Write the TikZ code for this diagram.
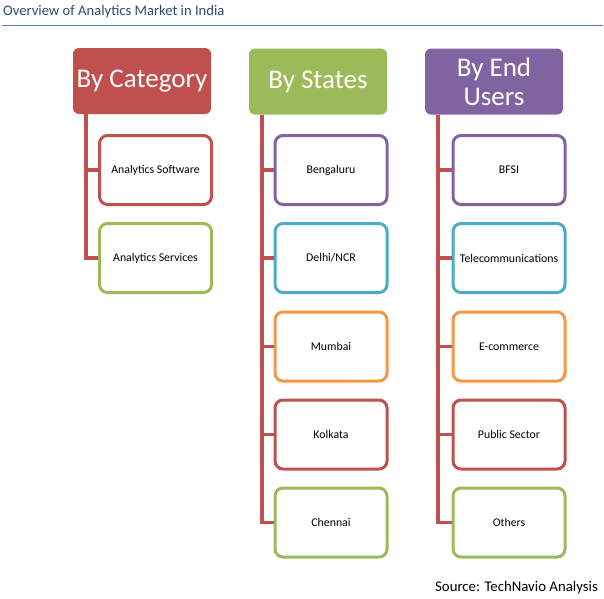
\documentclass[tikz,border=0pt]{standalone}
\usepackage{fontspec}
\setmainfont{Carlito}
\definecolor{cred}{HTML}{C0504D}
\definecolor{cgreen}{HTML}{9BBB59}
\definecolor{cpurple}{HTML}{8064A2}
\definecolor{cteal}{HTML}{4BACC6}
\definecolor{corange}{HTML}{F79646}
\definecolor{ctitle}{HTML}{2E4A6B}
\definecolor{cline}{HTML}{4F81BD}
\tikzset{
  hdr/.style={fill=#1, rounded corners=6pt, minimum width=138pt, minimum height=66pt, inner sep=0pt, text=white, font=\fontsize{27}{29}\selectfont, align=center},
  leaf/.style={draw=#1, line width=3pt, fill=white, rounded corners=8pt, minimum width=112pt, minimum height=69pt, inner sep=0pt, font=\fontsize{11.8}{13}\selectfont, align=center},
  conn/.style={draw=cred, line width=3.2pt},
}
\begin{document}
\begin{tikzpicture}[x=1pt,y=-1pt]
\useasboundingbox (0,0) rectangle (604,598);
\node[anchor=base west, text=ctitle, font=\fontsize{14.6}{16}\selectfont, inner sep=0pt] (title) at (3,15) {Overview of Analytics Market in India};
\coordinate (tl) at (2,25);
\coordinate (tr) at (603,25);
\draw[cline, line width=0.8pt] (tl) -- (tr);

\node[hdr=cred] (cat) at (142,81) {By Category};
\node[hdr=cgreen] (st) at (318,81.5) {By States};
\node[hdr=cpurple] (eu) at (494,81.5) {By End\\Users};

\node[leaf=cred] (c1) at (155.5,170) {Analytics Software};
\node[leaf=cgreen] (c2) at (155.5,258) {Analytics Services};

\node[leaf=cpurple] (s1) at (331,170) {Bengaluru};
\node[leaf=cteal] (s2) at (331,258) {Delhi/NCR};
\node[leaf=corange] (s3) at (331,346.5) {Mumbai};
\node[leaf=cred] (s4) at (331,434.5) {Kolkata};
\node[leaf=cgreen] (s5) at (331,522.5) {Chennai};

\node[leaf=cpurple] (e1) at (509,170) {BFSI};
\node[leaf=cteal] (e2) at (509,258) {Telecommunications};
\node[leaf=corange] (e3) at (509,346.5) {E-commerce};
\node[leaf=cred] (e4) at (509,434.5) {Public Sector};
\node[leaf=cgreen] (e5) at (509,522.5) {Others};

\coordinate (ct) at (86,114);
\coordinate (stt) at (262,115);
\coordinate (et) at (438,115);

\foreach \n in {c1,c2} \draw[conn] (cat.south -| ct) |- (\n.west);
\foreach \n in {s1,s2,s3,s4,s5} \draw[conn] (st.south -| stt) |- (\n.west);
\foreach \n in {e1,e2,e3,e4,e5} \draw[conn] (eu.south -| et) |- (\n.west);

\node[anchor=base east, font=\fontsize{14.8}{16}\selectfont, inner sep=0pt] (src) at (598,591) {Source: TechNavio Analysis};
\end{tikzpicture}
\end{document}
